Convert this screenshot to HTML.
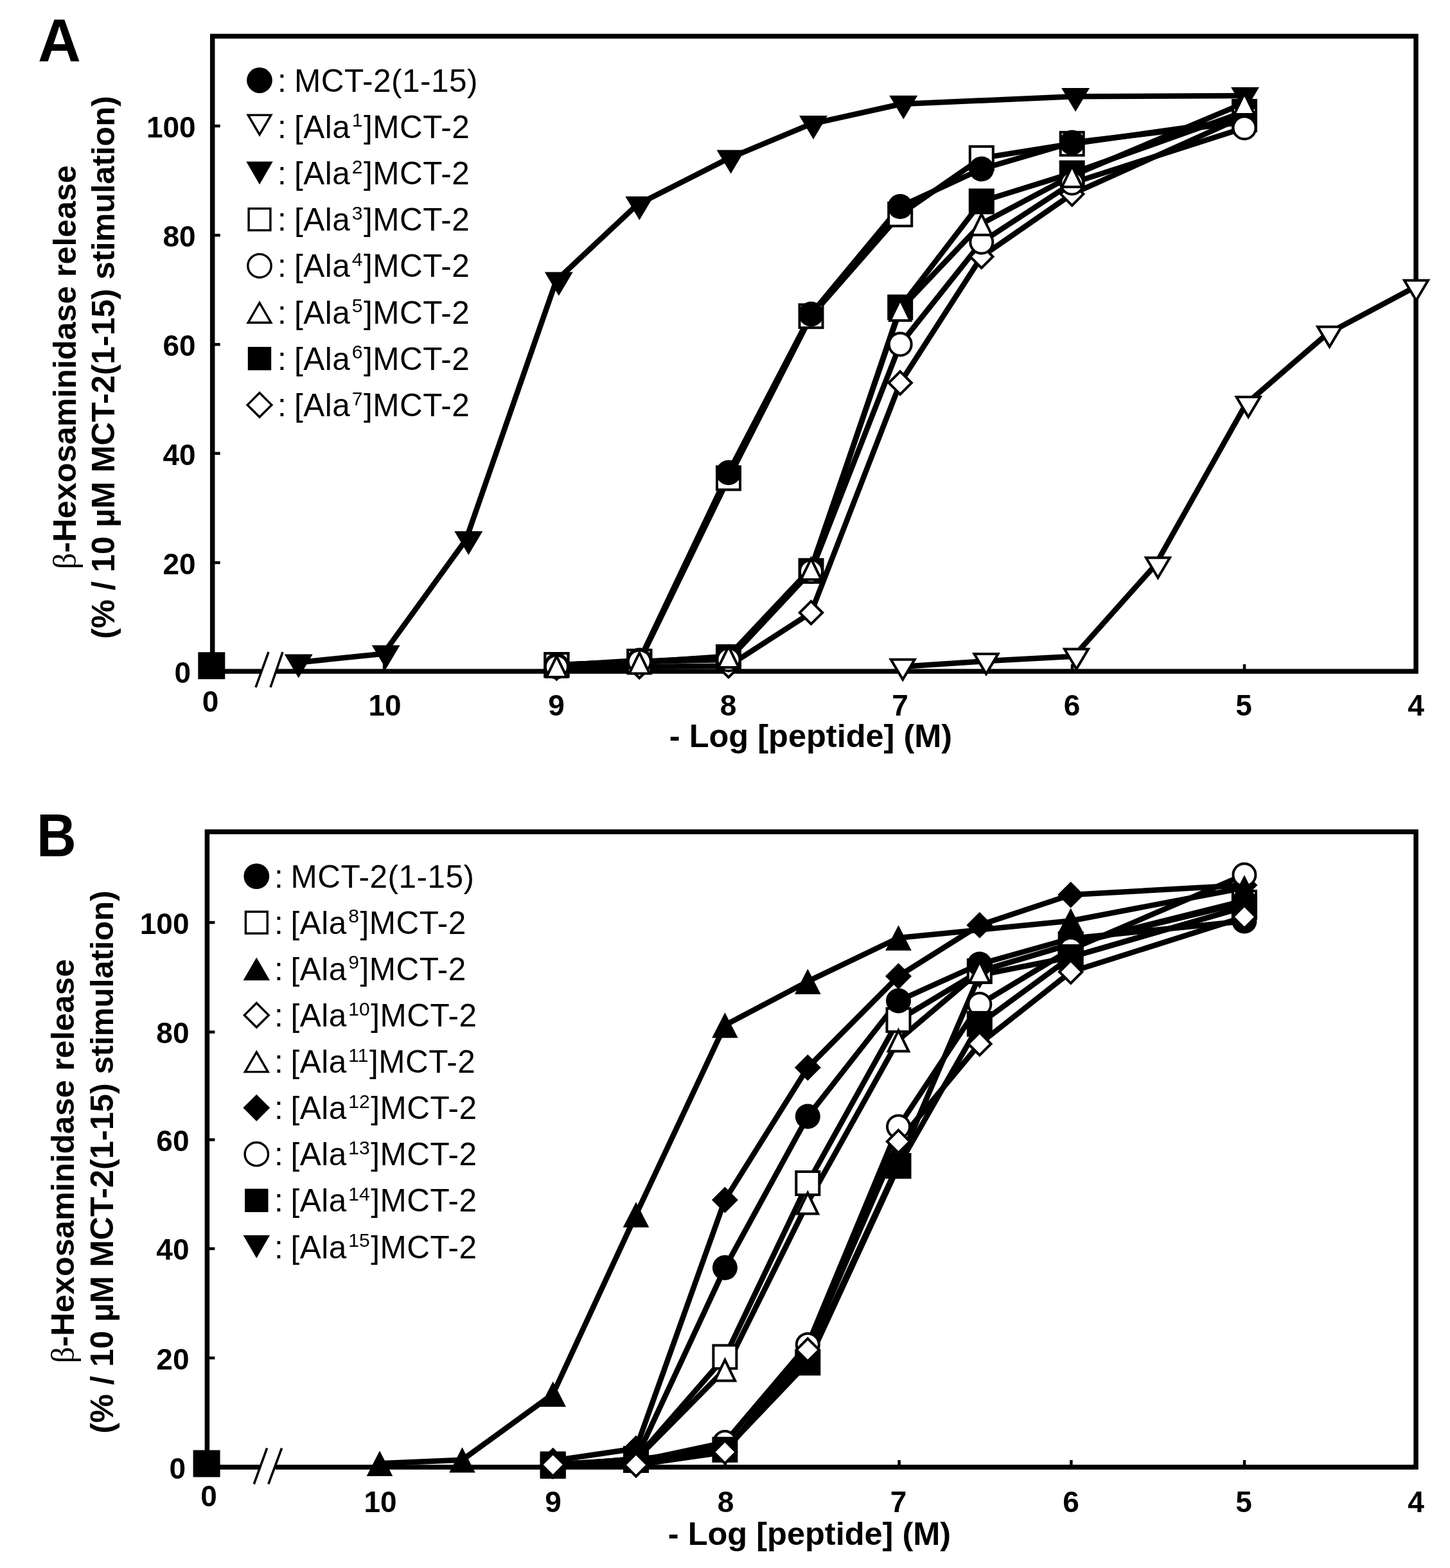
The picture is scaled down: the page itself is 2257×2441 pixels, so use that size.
<!DOCTYPE html>
<html><head><meta charset="utf-8"><title>Figure</title><style>
html,body{margin:0;padding:0;background:#fff;}
body{width:2257px;height:2441px;overflow:hidden;}
svg{display:block;}
text{font-family:"Liberation Sans", sans-serif;fill:#000;}
.tk{font-size:46px;font-weight:bold;}
.ti{font-size:50.5px;font-weight:bold;}
.beta{font-weight:normal;font-family:"Liberation Serif",serif;}
.pl{font-size:95px;font-weight:bold;}
.lg{font-size:49.5px;letter-spacing:0.5px;}
.sup{font-size:30px;letter-spacing:0;}
</style></head><body>
<svg width="2257" height="2441" viewBox="0 0 2257 2441">
<rect width="100%" height="100%" fill="#fff"/>
<rect x="330.7" y="56.4" width="1873.3" height="988.6999999999999" fill="none" stroke="#000" stroke-width="7.5"/>
<line x1="330.7" y1="875.9" x2="342.7" y2="875.9" stroke="#000" stroke-width="4.5"/>
<line x1="330.7" y1="705.8" x2="342.7" y2="705.8" stroke="#000" stroke-width="4.5"/>
<line x1="330.7" y1="536.2" x2="342.7" y2="536.2" stroke="#000" stroke-width="4.5"/>
<line x1="330.7" y1="366.2" x2="342.7" y2="366.2" stroke="#000" stroke-width="4.5"/>
<line x1="330.7" y1="196.1" x2="342.7" y2="196.1" stroke="#000" stroke-width="4.5"/>
<line x1="598.1" y1="1045.1" x2="598.1" y2="1034.1" stroke="#000" stroke-width="4.5"/>
<line x1="866.5" y1="1045.1" x2="866.5" y2="1034.1" stroke="#000" stroke-width="4.5"/>
<line x1="1134.0" y1="1045.1" x2="1134.0" y2="1034.1" stroke="#000" stroke-width="4.5"/>
<line x1="1401.0" y1="1045.1" x2="1401.0" y2="1034.1" stroke="#000" stroke-width="4.5"/>
<line x1="1669.0" y1="1045.1" x2="1669.0" y2="1034.1" stroke="#000" stroke-width="4.5"/>
<line x1="1937.0" y1="1045.1" x2="1937.0" y2="1034.1" stroke="#000" stroke-width="4.5"/>
<rect x="406" y="1039.1" width="24" height="12" fill="#fff"/>
<line x1="418" y1="1015" x2="398" y2="1070" stroke="#000" stroke-width="3.6"/>
<line x1="440" y1="1015" x2="421" y2="1070" stroke="#000" stroke-width="3.6"/>
<text x="304.7" y="214" text-anchor="end" class="tk">100</text>
<text x="304.7" y="384" text-anchor="end" class="tk">80</text>
<text x="304.7" y="554" text-anchor="end" class="tk">60</text>
<text x="304.7" y="723.5" text-anchor="end" class="tk">40</text>
<text x="304.7" y="893.5" text-anchor="end" class="tk">20</text>
<text x="297" y="1062.5" text-anchor="end" class="tk">0</text>
<text x="327.5" y="1108" text-anchor="middle" class="tk">0</text>
<text x="599" y="1114" text-anchor="middle" class="tk">10</text>
<text x="866" y="1114" text-anchor="middle" class="tk">9</text>
<text x="1133.5" y="1114" text-anchor="middle" class="tk">8</text>
<text x="1401" y="1114" text-anchor="middle" class="tk">7</text>
<text x="1668.5" y="1114" text-anchor="middle" class="tk">6</text>
<text x="1936" y="1114" text-anchor="middle" class="tk">5</text>
<text x="2204" y="1114" text-anchor="middle" class="tk">4</text>
<text x="1262" y="1163" class="ti" text-anchor="middle">- Log [peptide] (M)</text>
<g transform="translate(117.7,571.7) rotate(-90)"><text x="0" y="0" text-anchor="middle" class="ti"><tspan class="beta">β</tspan>-Hexosaminidase release</text></g>
<g transform="translate(178.2,572) rotate(-90)"><text x="0" y="0" text-anchor="middle" class="ti">(% / 10 µM MCT-2(1-15) stimulation)</text></g>
<text transform="translate(59.0,95.7) scale(0.975,1)" x="0" y="0" class="pl">A</text>
<circle cx="404.0" cy="125.0" r="19.9" fill="#000"/>
<text x="432" y="142.6" class="lg">:</text>
<text x="458" y="142.6" class="lg">MCT-2(1-15)</text>
<polygon points="386.2,179.1 421.8,179.1 404.0,209.7" fill="#fff" stroke="#000" stroke-width="3.4" stroke-linejoin="miter" stroke-miterlimit="10"/>
<text x="432" y="214.8" class="lg">:</text>
<text x="458" y="214.8" class="lg">[Ala<tspan class="sup" dx="2.5" dy="-17.5">1</tspan><tspan dx="1.5" dy="17.5">]MCT-2</tspan></text>
<polygon points="383.3,251.5 424.7,251.5 404.0,287.2" fill="#000"/>
<text x="432" y="287.0" class="lg">:</text>
<text x="458" y="287.0" class="lg">[Ala<tspan class="sup" dx="2.5" dy="-17.5">2</tspan><tspan dx="1.5" dy="17.5">]MCT-2</tspan></text>
<rect x="387.1" y="324.7" width="33.8" height="33.8" fill="#fff" stroke="#000" stroke-width="3.4"/>
<text x="432" y="359.2" class="lg">:</text>
<text x="458" y="359.2" class="lg">[Ala<tspan class="sup" dx="2.5" dy="-17.5">3</tspan><tspan dx="1.5" dy="17.5">]MCT-2</tspan></text>
<circle cx="404.0" cy="413.8" r="18.2" fill="#fff" stroke="#000" stroke-width="3.4"/>
<text x="432" y="431.4" class="lg">:</text>
<text x="458" y="431.4" class="lg">[Ala<tspan class="sup" dx="2.5" dy="-17.5">4</tspan><tspan dx="1.5" dy="17.5">]MCT-2</tspan></text>
<polygon points="386.2,502.2 421.8,502.2 404.0,471.5" fill="#fff" stroke="#000" stroke-width="3.4" stroke-linejoin="miter" stroke-miterlimit="10"/>
<text x="432" y="503.6" class="lg">:</text>
<text x="458" y="503.6" class="lg">[Ala<tspan class="sup" dx="2.5" dy="-17.5">5</tspan><tspan dx="1.5" dy="17.5">]MCT-2</tspan></text>
<rect x="385.8" y="540.0" width="36.4" height="36.4" fill="#000"/>
<text x="432" y="575.8" class="lg">:</text>
<text x="458" y="575.8" class="lg">[Ala<tspan class="sup" dx="2.5" dy="-17.5">6</tspan><tspan dx="1.5" dy="17.5">]MCT-2</tspan></text>
<polygon points="404.0,611.5 422.9,630.4 404.0,649.3 385.1,630.4" fill="#fff" stroke="#000" stroke-width="3.4"/>
<text x="432" y="648.0" class="lg">:</text>
<text x="458" y="648.0" class="lg">[Ala<tspan class="sup" dx="2.5" dy="-17.5">7</tspan><tspan dx="1.5" dy="17.5">]MCT-2</tspan></text>
<polyline points="460.7,1031.7 596.7,1017.7 725.3,840.3 865.8,436.8 991.3,319.1 1133.6,246.8 1262.0,193.2 1402.3,162.0 1670.1,150.3 1934.0,149.0" fill="none" stroke="#000" stroke-width="8.5" stroke-linejoin="round" stroke-linecap="round"/>
<polyline points="1401.2,1038.0 1531.0,1029.3 1671.5,1021.8 1798.4,879.6 1939.1,629.3 2065.5,520.0 2200.4,447.9" fill="none" stroke="#000" stroke-width="8.5" stroke-linejoin="round" stroke-linecap="round"/>
<polyline points="866.4,1040.0 995.3,1038.0 1134.0,1036.8 1262.5,953.8 1401.2,596.1 1527.8,399.5 1668.7,302.1 1937.0,181.0" fill="none" stroke="#000" stroke-width="8.5" stroke-linejoin="round" stroke-linecap="round"/>
<polyline points="866.4,1035.0 995.3,1030.0 1134.0,1023.0 1262.5,888.8 1401.2,478.5 1527.8,313.5 1668.7,269.6 1937.0,174.0" fill="none" stroke="#000" stroke-width="8.5" stroke-linejoin="round" stroke-linecap="round"/>
<polyline points="866.4,1035.2 995.3,1029.8 1134.0,744.4 1262.5,492.2 1401.2,333.8 1527.8,246.1 1668.7,223.8 1937.0,186.0" fill="none" stroke="#000" stroke-width="8.5" stroke-linejoin="round" stroke-linecap="round"/>
<polyline points="866.4,1036.0 995.3,1028.0 1134.0,735.8 1262.5,489.0 1401.2,321.6 1527.8,263.1 1668.7,222.0 1937.0,190.0" fill="none" stroke="#000" stroke-width="8.5" stroke-linejoin="round" stroke-linecap="round"/>
<polyline points="866.4,1038.0 995.3,1030.0 1134.0,1027.0 1262.5,889.5 1401.2,536.0 1527.8,377.0 1668.7,285.0 1937.0,199.0" fill="none" stroke="#000" stroke-width="8.5" stroke-linejoin="round" stroke-linecap="round"/>
<polyline points="866.4,1036.5 995.3,1031.1 1134.0,1021.4 1262.5,884.8 1401.2,481.5 1527.8,348.3 1668.7,273.6 1937.0,160.4" fill="none" stroke="#000" stroke-width="8.5" stroke-linejoin="round" stroke-linecap="round"/>
<polygon points="442.7,1018.4 486.7,1018.4 464.7,1055.4" fill="#000"/>
<polygon points="578.7,1004.4 622.7,1004.4 600.7,1041.4" fill="#000"/>
<polygon points="707.3,827.0 751.3,827.0 729.3,864.0" fill="#000"/>
<polygon points="847.8,423.5 891.8,423.5 869.8,460.5" fill="#000"/>
<polygon points="973.3,305.8 1017.3,305.8 995.3,342.8" fill="#000"/>
<polygon points="1115.6,233.5 1159.6,233.5 1137.6,270.5" fill="#000"/>
<polygon points="1244.0,179.9 1288.0,179.9 1266.0,216.9" fill="#000"/>
<polygon points="1384.3,148.7 1428.3,148.7 1406.3,185.7" fill="#000"/>
<polygon points="1652.1,137.0 1696.1,137.0 1674.1,174.0" fill="#000"/>
<polygon points="1916.0,135.7 1960.0,135.7 1938.0,172.7" fill="#000"/>
<polygon points="1386.7,1026.7 1423.7,1026.7 1405.2,1057.8" fill="#fff" stroke="#000" stroke-width="4.0" stroke-linejoin="miter" stroke-miterlimit="10"/>
<polygon points="1516.5,1018.0 1553.5,1018.0 1535.0,1049.1" fill="#fff" stroke="#000" stroke-width="4.0" stroke-linejoin="miter" stroke-miterlimit="10"/>
<polygon points="1657.0,1010.5 1694.0,1010.5 1675.5,1041.6" fill="#fff" stroke="#000" stroke-width="4.0" stroke-linejoin="miter" stroke-miterlimit="10"/>
<polygon points="1783.9,868.3 1820.9,868.3 1802.4,899.4" fill="#fff" stroke="#000" stroke-width="4.0" stroke-linejoin="miter" stroke-miterlimit="10"/>
<polygon points="1924.6,618.0 1961.6,618.0 1943.1,649.1" fill="#fff" stroke="#000" stroke-width="4.0" stroke-linejoin="miter" stroke-miterlimit="10"/>
<polygon points="2051.0,508.7 2088.0,508.7 2069.5,539.8" fill="#fff" stroke="#000" stroke-width="4.0" stroke-linejoin="miter" stroke-miterlimit="10"/>
<polygon points="2185.9,436.6 2222.9,436.6 2204.4,467.7" fill="#fff" stroke="#000" stroke-width="4.0" stroke-linejoin="miter" stroke-miterlimit="10"/>
<polygon points="866.4,1022.3 884.1,1040.0 866.4,1057.7 848.7,1040.0" fill="#fff" stroke="#000" stroke-width="4.0"/>
<polygon points="995.3,1020.3 1013.0,1038.0 995.3,1055.7 977.6,1038.0" fill="#fff" stroke="#000" stroke-width="4.0"/>
<polygon points="1134.0,1019.1 1151.7,1036.8 1134.0,1054.5 1116.3,1036.8" fill="#fff" stroke="#000" stroke-width="4.0"/>
<polygon points="1262.5,936.1 1280.2,953.8 1262.5,971.5 1244.8,953.8" fill="#fff" stroke="#000" stroke-width="4.0"/>
<polygon points="1401.2,578.4 1418.9,596.1 1401.2,613.8 1383.5,596.1" fill="#fff" stroke="#000" stroke-width="4.0"/>
<polygon points="1527.8,381.8 1545.5,399.5 1527.8,417.2 1510.1,399.5" fill="#fff" stroke="#000" stroke-width="4.0"/>
<polygon points="1668.7,284.4 1686.4,302.1 1668.7,319.8 1651.0,302.1" fill="#fff" stroke="#000" stroke-width="4.0"/>
<polygon points="1937.0,163.3 1954.7,181.0 1937.0,198.7 1919.3,181.0" fill="#fff" stroke="#000" stroke-width="4.0"/>
<rect x="846.4" y="1015.0" width="40.0" height="40.0" fill="#000"/>
<rect x="975.3" y="1010.0" width="40.0" height="40.0" fill="#000"/>
<rect x="1114.0" y="1003.0" width="40.0" height="40.0" fill="#000"/>
<rect x="1242.5" y="868.8" width="40.0" height="40.0" fill="#000"/>
<rect x="1381.2" y="458.5" width="40.0" height="40.0" fill="#000"/>
<rect x="1507.8" y="293.5" width="40.0" height="40.0" fill="#000"/>
<rect x="1648.7" y="249.6" width="40.0" height="40.0" fill="#000"/>
<rect x="1917.0" y="154.0" width="40.0" height="40.0" fill="#000"/>
<rect x="848.4" y="1017.2" width="36.0" height="36.0" fill="#fff" stroke="#000" stroke-width="4.0"/>
<rect x="977.3" y="1011.8" width="36.0" height="36.0" fill="#fff" stroke="#000" stroke-width="4.0"/>
<rect x="1116.0" y="726.4" width="36.0" height="36.0" fill="#fff" stroke="#000" stroke-width="4.0"/>
<rect x="1244.5" y="474.2" width="36.0" height="36.0" fill="#fff" stroke="#000" stroke-width="4.0"/>
<rect x="1383.2" y="315.8" width="36.0" height="36.0" fill="#fff" stroke="#000" stroke-width="4.0"/>
<rect x="1509.8" y="228.1" width="36.0" height="36.0" fill="#fff" stroke="#000" stroke-width="4.0"/>
<rect x="1650.7" y="205.8" width="36.0" height="36.0" fill="#fff" stroke="#000" stroke-width="4.0"/>
<rect x="1919.0" y="168.0" width="36.0" height="36.0" fill="#fff" stroke="#000" stroke-width="4.0"/>
<circle cx="866.4" cy="1036.0" r="19.5" fill="#000"/>
<circle cx="995.3" cy="1028.0" r="19.5" fill="#000"/>
<circle cx="1134.0" cy="735.8" r="19.5" fill="#000"/>
<circle cx="1262.5" cy="489.0" r="19.5" fill="#000"/>
<circle cx="1401.2" cy="321.6" r="19.5" fill="#000"/>
<circle cx="1527.8" cy="263.1" r="19.5" fill="#000"/>
<circle cx="1668.7" cy="222.0" r="19.5" fill="#000"/>
<circle cx="1937.0" cy="190.0" r="19.5" fill="#000"/>
<circle cx="866.4" cy="1038.0" r="17.5" fill="#fff" stroke="#000" stroke-width="4.0"/>
<circle cx="995.3" cy="1030.0" r="17.5" fill="#fff" stroke="#000" stroke-width="4.0"/>
<circle cx="1134.0" cy="1027.0" r="17.5" fill="#fff" stroke="#000" stroke-width="4.0"/>
<circle cx="1262.5" cy="889.5" r="17.5" fill="#fff" stroke="#000" stroke-width="4.0"/>
<circle cx="1401.2" cy="536.0" r="17.5" fill="#fff" stroke="#000" stroke-width="4.0"/>
<circle cx="1527.8" cy="377.0" r="17.5" fill="#fff" stroke="#000" stroke-width="4.0"/>
<circle cx="1668.7" cy="285.0" r="17.5" fill="#fff" stroke="#000" stroke-width="4.0"/>
<circle cx="1937.0" cy="199.0" r="17.5" fill="#fff" stroke="#000" stroke-width="4.0"/>
<polygon points="850.6,1054.0 882.2,1054.0 866.4,1021.6" fill="#fff" stroke="#000" stroke-width="4.0" stroke-linejoin="miter" stroke-miterlimit="10"/>
<polygon points="979.5,1048.6 1011.1,1048.6 995.3,1016.2" fill="#fff" stroke="#000" stroke-width="4.0" stroke-linejoin="miter" stroke-miterlimit="10"/>
<polygon points="1118.2,1038.9 1149.8,1038.9 1134.0,1006.5" fill="#fff" stroke="#000" stroke-width="4.0" stroke-linejoin="miter" stroke-miterlimit="10"/>
<polygon points="1246.7,902.3 1278.3,902.3 1262.5,869.9" fill="#fff" stroke="#000" stroke-width="4.0" stroke-linejoin="miter" stroke-miterlimit="10"/>
<polygon points="1385.4,499.0 1417.0,499.0 1401.2,466.6" fill="#fff" stroke="#000" stroke-width="4.0" stroke-linejoin="miter" stroke-miterlimit="10"/>
<polygon points="1512.0,365.8 1543.6,365.8 1527.8,333.4" fill="#fff" stroke="#000" stroke-width="4.0" stroke-linejoin="miter" stroke-miterlimit="10"/>
<polygon points="1652.9,291.1 1684.5,291.1 1668.7,258.7" fill="#fff" stroke="#000" stroke-width="4.0" stroke-linejoin="miter" stroke-miterlimit="10"/>
<polygon points="1921.2,177.9 1952.8,177.9 1937.0,145.5" fill="#fff" stroke="#000" stroke-width="4.0" stroke-linejoin="miter" stroke-miterlimit="10"/>
<rect x="308.3" y="1015.3" width="42" height="42" fill="#000"/>
<rect x="322.4" y="1294.9" width="1881.6" height="989.0999999999999" fill="none" stroke="#000" stroke-width="7.5"/>
<line x1="322.4" y1="2114.0" x2="334.4" y2="2114.0" stroke="#000" stroke-width="4.5"/>
<line x1="322.4" y1="1943.9" x2="334.4" y2="1943.9" stroke="#000" stroke-width="4.5"/>
<line x1="322.4" y1="1774.3" x2="334.4" y2="1774.3" stroke="#000" stroke-width="4.5"/>
<line x1="322.4" y1="1606.6" x2="334.4" y2="1606.6" stroke="#000" stroke-width="4.5"/>
<line x1="322.4" y1="1436.1" x2="334.4" y2="1436.1" stroke="#000" stroke-width="4.5"/>
<line x1="592.0" y1="2284.0" x2="592.0" y2="2273.0" stroke="#000" stroke-width="4.5"/>
<line x1="860.7" y1="2284.0" x2="860.7" y2="2273.0" stroke="#000" stroke-width="4.5"/>
<line x1="1129.0" y1="2284.0" x2="1129.0" y2="2273.0" stroke="#000" stroke-width="4.5"/>
<line x1="1399.6" y1="2284.0" x2="1399.6" y2="2273.0" stroke="#000" stroke-width="4.5"/>
<line x1="1667.4" y1="2284.0" x2="1667.4" y2="2273.0" stroke="#000" stroke-width="4.5"/>
<line x1="1937.0" y1="2284.0" x2="1937.0" y2="2273.0" stroke="#000" stroke-width="4.5"/>
<rect x="404" y="2278.0" width="25" height="12" fill="#fff"/>
<line x1="415.6" y1="2254.4" x2="395.3" y2="2310.4" stroke="#000" stroke-width="3.6"/>
<line x1="438.6" y1="2254.4" x2="417.8" y2="2310.4" stroke="#000" stroke-width="3.6"/>
<text x="294.5" y="1453.6" text-anchor="end" class="tk">100</text>
<text x="294.5" y="1624.1" text-anchor="end" class="tk">80</text>
<text x="294.5" y="1791.8" text-anchor="end" class="tk">60</text>
<text x="294.5" y="1961.4" text-anchor="end" class="tk">40</text>
<text x="294.5" y="2131.5" text-anchor="end" class="tk">20</text>
<text x="289" y="2301.8" text-anchor="end" class="tk">0</text>
<text x="325" y="2345" text-anchor="middle" class="tk">0</text>
<text x="592" y="2354" text-anchor="middle" class="tk">10</text>
<text x="861" y="2354" text-anchor="middle" class="tk">9</text>
<text x="1129.5" y="2354" text-anchor="middle" class="tk">8</text>
<text x="1398.5" y="2354" text-anchor="middle" class="tk">7</text>
<text x="1667" y="2354" text-anchor="middle" class="tk">6</text>
<text x="1936" y="2354" text-anchor="middle" class="tk">5</text>
<text x="2204" y="2354" text-anchor="middle" class="tk">4</text>
<text x="1260" y="2404.5" class="ti" text-anchor="middle">- Log [peptide] (M)</text>
<g transform="translate(115.2,1807.6) rotate(-90)"><text x="0" y="0" text-anchor="middle" class="ti"><tspan class="beta">β</tspan>-Hexosaminidase release</text></g>
<g transform="translate(175.7,1808.9) rotate(-90)"><text x="0" y="0" text-anchor="middle" class="ti">(% / 10 µM MCT-2(1-15) stimulation)</text></g>
<text transform="translate(57.1,1332.6) scale(0.9,1)" x="0" y="0" class="pl">B</text>
<circle cx="399.3" cy="1364.1" r="19.9" fill="#000"/>
<text x="427" y="1381.7" class="lg">:</text>
<text x="452.5" y="1381.7" class="lg">MCT-2(1-15)</text>
<rect x="382.4" y="1419.3" width="33.8" height="33.8" fill="#fff" stroke="#000" stroke-width="3.4"/>
<text x="427" y="1453.8" class="lg">:</text>
<text x="452.5" y="1453.8" class="lg">[Ala<tspan class="sup" dx="2.5" dy="-17.5">8</tspan><tspan dx="1.5" dy="17.5">]MCT-2</tspan></text>
<polygon points="378.6,1526.2 420.0,1526.2 399.3,1490.5" fill="#000"/>
<text x="427" y="1525.9" class="lg">:</text>
<text x="452.5" y="1525.9" class="lg">[Ala<tspan class="sup" dx="2.5" dy="-17.5">9</tspan><tspan dx="1.5" dy="17.5">]MCT-2</tspan></text>
<polygon points="399.3,1561.5 418.2,1580.4 399.3,1599.3 380.4,1580.4" fill="#fff" stroke="#000" stroke-width="3.4"/>
<text x="427" y="1598.0" class="lg">:</text>
<text x="452.5" y="1598.0" class="lg">[Ala<tspan class="sup" dx="2.5" dy="-17.5">10</tspan><tspan dx="1.5" dy="17.5">]MCT-2</tspan></text>
<polygon points="381.5,1668.6 417.1,1668.6 399.3,1638.0" fill="#fff" stroke="#000" stroke-width="3.4" stroke-linejoin="miter" stroke-miterlimit="10"/>
<text x="427" y="1670.1" class="lg">:</text>
<text x="452.5" y="1670.1" class="lg">[Ala<tspan class="sup" dx="2.5" dy="-17.5">11</tspan><tspan dx="1.5" dy="17.5">]MCT-2</tspan></text>
<polygon points="399.3,1703.7 420.2,1724.6 399.3,1745.5 378.4,1724.6" fill="#000"/>
<text x="427" y="1742.2" class="lg">:</text>
<text x="452.5" y="1742.2" class="lg">[Ala<tspan class="sup" dx="2.5" dy="-17.5">12</tspan><tspan dx="1.5" dy="17.5">]MCT-2</tspan></text>
<circle cx="399.3" cy="1796.7" r="18.2" fill="#fff" stroke="#000" stroke-width="3.4"/>
<text x="427" y="1814.3" class="lg">:</text>
<text x="452.5" y="1814.3" class="lg">[Ala<tspan class="sup" dx="2.5" dy="-17.5">13</tspan><tspan dx="1.5" dy="17.5">]MCT-2</tspan></text>
<rect x="381.1" y="1850.6" width="36.4" height="36.4" fill="#000"/>
<text x="427" y="1886.4" class="lg">:</text>
<text x="452.5" y="1886.4" class="lg">[Ala<tspan class="sup" dx="2.5" dy="-17.5">14</tspan><tspan dx="1.5" dy="17.5">]MCT-2</tspan></text>
<polygon points="378.6,1923.1 420.0,1923.1 399.3,1958.8" fill="#000"/>
<text x="427" y="1958.5" class="lg">:</text>
<text x="452.5" y="1958.5" class="lg">[Ala<tspan class="sup" dx="2.5" dy="-17.5">15</tspan><tspan dx="1.5" dy="17.5">]MCT-2</tspan></text>
<polyline points="860.7,2280.0 990.0,2272.0 1128.4,2256.0 1257.3,2117.0 1398.5,1812.0 1524.8,1518.0 1666.7,1490.0 1936.9,1412.0" fill="none" stroke="#000" stroke-width="8.5" stroke-linejoin="round" stroke-linecap="round"/>
<polyline points="860.7,2282.0 990.0,2271.0 1128.4,2112.4 1257.3,1842.0 1398.5,1588.0 1524.8,1512.0 1666.7,1470.0 1936.9,1405.0" fill="none" stroke="#000" stroke-width="8.5" stroke-linejoin="round" stroke-linecap="round"/>
<polyline points="860.7,2282.0 990.0,2271.0 1128.4,1973.6 1257.3,1738.0 1398.5,1558.0 1524.8,1501.0 1666.7,1461.0 1936.9,1434.0" fill="none" stroke="#000" stroke-width="8.5" stroke-linejoin="round" stroke-linecap="round"/>
<polyline points="860.7,2282.0 990.0,2272.0 1128.4,2132.0 1257.3,1872.0 1398.5,1619.0 1524.8,1512.0 1666.7,1470.0 1936.9,1402.0" fill="none" stroke="#000" stroke-width="8.5" stroke-linejoin="round" stroke-linecap="round"/>
<polyline points="860.7,2274.0 990.0,2255.0 1128.4,1867.9 1257.3,1661.9 1398.5,1519.7 1524.8,1440.2 1666.7,1393.0 1936.9,1378.0" fill="none" stroke="#000" stroke-width="8.5" stroke-linejoin="round" stroke-linecap="round"/>
<polyline points="860.7,2283.0 990.0,2275.0 1128.4,2245.6 1257.3,2093.4 1398.5,1754.0 1524.8,1563.5 1666.7,1478.0 1936.9,1362.0" fill="none" stroke="#000" stroke-width="8.5" stroke-linejoin="round" stroke-linecap="round"/>
<polyline points="591.0,2278.2 719.5,2272.8 860.7,2170.3 990.0,1890.9 1128.4,1595.9 1257.3,1527.9 1398.5,1460.0 1666.7,1433.5 1936.9,1382.0" fill="none" stroke="#000" stroke-width="8.5" stroke-linejoin="round" stroke-linecap="round"/>
<polyline points="860.7,2279.5 990.0,2273.0 1128.4,2256.8 1257.3,2121.4 1398.5,1815.0 1524.8,1593.9 1666.7,1490.0 1936.9,1412.0" fill="none" stroke="#000" stroke-width="8.5" stroke-linejoin="round" stroke-linecap="round"/>
<polyline points="860.7,2280.2 990.0,2280.6 1128.4,2260.5 1257.3,2101.5 1398.5,1777.0 1524.8,1625.0 1666.7,1513.0 1936.9,1427.4" fill="none" stroke="#000" stroke-width="8.5" stroke-linejoin="round" stroke-linecap="round"/>
<polygon points="840.9,2268.0 880.5,2268.0 860.7,2301.3" fill="#000"/>
<polygon points="970.2,2260.0 1009.8,2260.0 990.0,2293.3" fill="#000"/>
<polygon points="1108.6,2244.0 1148.2,2244.0 1128.4,2277.3" fill="#000"/>
<polygon points="1237.5,2105.0 1277.1,2105.0 1257.3,2138.3" fill="#000"/>
<polygon points="1378.7,1800.0 1418.3,1800.0 1398.5,1833.3" fill="#000"/>
<polygon points="1505.0,1506.0 1544.6,1506.0 1524.8,1539.3" fill="#000"/>
<polygon points="1646.9,1478.0 1686.5,1478.0 1666.7,1511.3" fill="#000"/>
<polygon points="1917.1,1400.0 1956.7,1400.0 1936.9,1433.3" fill="#000"/>
<rect x="842.7" y="2264.0" width="36.0" height="36.0" fill="#fff" stroke="#000" stroke-width="4.0"/>
<rect x="972.0" y="2253.0" width="36.0" height="36.0" fill="#fff" stroke="#000" stroke-width="4.0"/>
<rect x="1110.4" y="2094.4" width="36.0" height="36.0" fill="#fff" stroke="#000" stroke-width="4.0"/>
<rect x="1239.3" y="1824.0" width="36.0" height="36.0" fill="#fff" stroke="#000" stroke-width="4.0"/>
<rect x="1380.5" y="1570.0" width="36.0" height="36.0" fill="#fff" stroke="#000" stroke-width="4.0"/>
<rect x="1506.8" y="1494.0" width="36.0" height="36.0" fill="#fff" stroke="#000" stroke-width="4.0"/>
<rect x="1648.7" y="1452.0" width="36.0" height="36.0" fill="#fff" stroke="#000" stroke-width="4.0"/>
<rect x="1918.9" y="1387.0" width="36.0" height="36.0" fill="#fff" stroke="#000" stroke-width="4.0"/>
<circle cx="860.7" cy="2282.0" r="19.5" fill="#000"/>
<circle cx="990.0" cy="2271.0" r="19.5" fill="#000"/>
<circle cx="1128.4" cy="1973.6" r="19.5" fill="#000"/>
<circle cx="1257.3" cy="1738.0" r="19.5" fill="#000"/>
<circle cx="1398.5" cy="1558.0" r="19.5" fill="#000"/>
<circle cx="1524.8" cy="1501.0" r="19.5" fill="#000"/>
<circle cx="1666.7" cy="1461.0" r="19.5" fill="#000"/>
<circle cx="1936.9" cy="1434.0" r="19.5" fill="#000"/>
<polygon points="844.9,2299.5 876.5,2299.5 860.7,2267.1" fill="#fff" stroke="#000" stroke-width="4.0" stroke-linejoin="miter" stroke-miterlimit="10"/>
<polygon points="974.2,2289.5 1005.8,2289.5 990.0,2257.1" fill="#fff" stroke="#000" stroke-width="4.0" stroke-linejoin="miter" stroke-miterlimit="10"/>
<polygon points="1112.6,2149.5 1144.2,2149.5 1128.4,2117.1" fill="#fff" stroke="#000" stroke-width="4.0" stroke-linejoin="miter" stroke-miterlimit="10"/>
<polygon points="1241.5,1889.5 1273.1,1889.5 1257.3,1857.1" fill="#fff" stroke="#000" stroke-width="4.0" stroke-linejoin="miter" stroke-miterlimit="10"/>
<polygon points="1382.7,1636.5 1414.3,1636.5 1398.5,1604.1" fill="#fff" stroke="#000" stroke-width="4.0" stroke-linejoin="miter" stroke-miterlimit="10"/>
<polygon points="1509.0,1529.5 1540.6,1529.5 1524.8,1497.1" fill="#fff" stroke="#000" stroke-width="4.0" stroke-linejoin="miter" stroke-miterlimit="10"/>
<polygon points="1650.9,1487.5 1682.5,1487.5 1666.7,1455.1" fill="#fff" stroke="#000" stroke-width="4.0" stroke-linejoin="miter" stroke-miterlimit="10"/>
<polygon points="1921.1,1419.5 1952.7,1419.5 1936.9,1387.1" fill="#fff" stroke="#000" stroke-width="4.0" stroke-linejoin="miter" stroke-miterlimit="10"/>
<polygon points="860.7,2253.5 881.2,2274.0 860.7,2294.5 840.2,2274.0" fill="#000"/>
<polygon points="990.0,2234.5 1010.5,2255.0 990.0,2275.5 969.5,2255.0" fill="#000"/>
<polygon points="1128.4,1847.4 1148.9,1867.9 1128.4,1888.4 1107.9,1867.9" fill="#000"/>
<polygon points="1257.3,1641.4 1277.8,1661.9 1257.3,1682.4 1236.8,1661.9" fill="#000"/>
<polygon points="1398.5,1499.2 1419.0,1519.7 1398.5,1540.2 1378.0,1519.7" fill="#000"/>
<polygon points="1524.8,1419.7 1545.3,1440.2 1524.8,1460.7 1504.3,1440.2" fill="#000"/>
<polygon points="1666.7,1372.5 1687.2,1393.0 1666.7,1413.5 1646.2,1393.0" fill="#000"/>
<polygon points="1936.9,1357.5 1957.4,1378.0 1936.9,1398.5 1916.4,1378.0" fill="#000"/>
<circle cx="860.7" cy="2283.0" r="17.5" fill="#fff" stroke="#000" stroke-width="4.0"/>
<circle cx="990.0" cy="2275.0" r="17.5" fill="#fff" stroke="#000" stroke-width="4.0"/>
<circle cx="1128.4" cy="2245.6" r="17.5" fill="#fff" stroke="#000" stroke-width="4.0"/>
<circle cx="1257.3" cy="2093.4" r="17.5" fill="#fff" stroke="#000" stroke-width="4.0"/>
<circle cx="1398.5" cy="1754.0" r="17.5" fill="#fff" stroke="#000" stroke-width="4.0"/>
<circle cx="1524.8" cy="1563.5" r="17.5" fill="#fff" stroke="#000" stroke-width="4.0"/>
<circle cx="1666.7" cy="1478.0" r="17.5" fill="#fff" stroke="#000" stroke-width="4.0"/>
<circle cx="1936.9" cy="1362.0" r="17.5" fill="#fff" stroke="#000" stroke-width="4.0"/>
<polygon points="570.7,2297.9 611.3,2297.9 591.0,2258.4" fill="#000"/>
<polygon points="699.2,2292.6 739.8,2292.6 719.5,2253.1" fill="#000"/>
<polygon points="840.4,2190.1 881.0,2190.1 860.7,2150.6" fill="#000"/>
<polygon points="969.7,1910.7 1010.3,1910.7 990.0,1871.2" fill="#000"/>
<polygon points="1108.1,1615.7 1148.7,1615.7 1128.4,1576.2" fill="#000"/>
<polygon points="1237.0,1547.7 1277.6,1547.7 1257.3,1508.2" fill="#000"/>
<polygon points="1378.2,1479.8 1418.8,1479.8 1398.5,1440.2" fill="#000"/>
<polygon points="1646.4,1453.2 1687.0,1453.2 1666.7,1413.8" fill="#000"/>
<polygon points="1916.6,1401.8 1957.2,1401.8 1936.9,1362.2" fill="#000"/>
<rect x="840.7" y="2259.5" width="40.0" height="40.0" fill="#000"/>
<rect x="970.0" y="2253.0" width="40.0" height="40.0" fill="#000"/>
<rect x="1108.4" y="2236.8" width="40.0" height="40.0" fill="#000"/>
<rect x="1237.3" y="2101.4" width="40.0" height="40.0" fill="#000"/>
<rect x="1378.5" y="1795.0" width="40.0" height="40.0" fill="#000"/>
<rect x="1504.8" y="1573.9" width="40.0" height="40.0" fill="#000"/>
<rect x="1646.7" y="1470.0" width="40.0" height="40.0" fill="#000"/>
<rect x="1916.9" y="1392.0" width="40.0" height="40.0" fill="#000"/>
<polygon points="860.7,2262.5 878.4,2280.2 860.7,2297.9 843.0,2280.2" fill="#fff" stroke="#000" stroke-width="4.0"/>
<polygon points="990.0,2262.9 1007.7,2280.6 990.0,2298.3 972.3,2280.6" fill="#fff" stroke="#000" stroke-width="4.0"/>
<polygon points="1128.4,2242.8 1146.1,2260.5 1128.4,2278.2 1110.7,2260.5" fill="#fff" stroke="#000" stroke-width="4.0"/>
<polygon points="1257.3,2083.8 1275.0,2101.5 1257.3,2119.2 1239.6,2101.5" fill="#fff" stroke="#000" stroke-width="4.0"/>
<polygon points="1398.5,1759.3 1416.2,1777.0 1398.5,1794.7 1380.8,1777.0" fill="#fff" stroke="#000" stroke-width="4.0"/>
<polygon points="1524.8,1607.3 1542.5,1625.0 1524.8,1642.7 1507.1,1625.0" fill="#fff" stroke="#000" stroke-width="4.0"/>
<polygon points="1666.7,1495.3 1684.4,1513.0 1666.7,1530.7 1649.0,1513.0" fill="#fff" stroke="#000" stroke-width="4.0"/>
<polygon points="1936.9,1409.7 1954.6,1427.4 1936.9,1445.1 1919.2,1427.4" fill="#fff" stroke="#000" stroke-width="4.0"/>
<rect x="300.6" y="2257.5" width="42" height="42" fill="#000"/>
</svg>
</body></html>
